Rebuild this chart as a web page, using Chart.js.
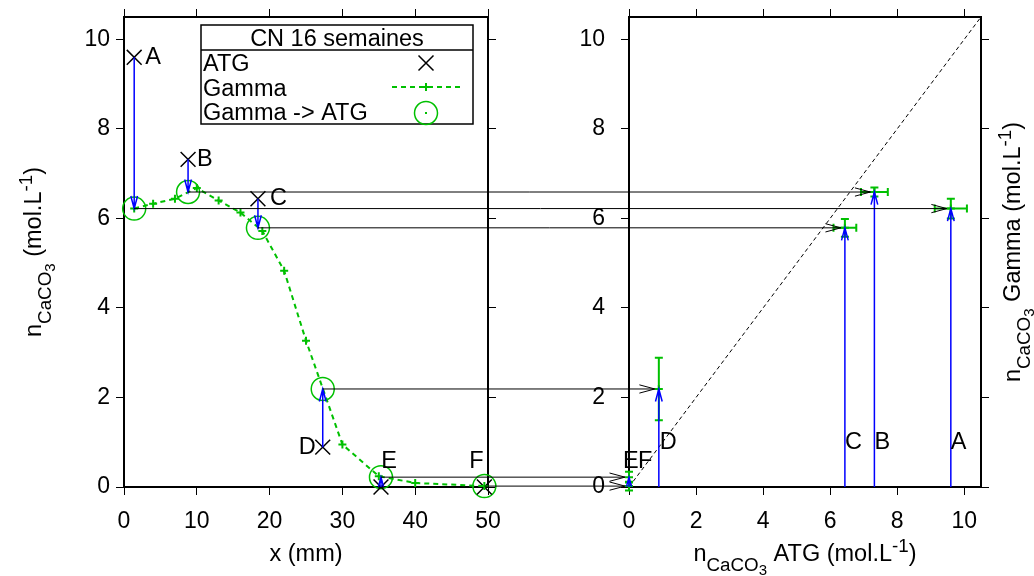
<!DOCTYPE html>
<html>
<head>
<meta charset="utf-8">
<script src="https://cdn.jsdelivr.net/npm/chart.js@4.4.0/dist/chart.umd.min.js"></script>
<style>
  body { margin: 0; background: #fff; }
  #wrap { position: relative; width: 1034px; height: 576px; }
  #wrap canvas { position: absolute; left: 0; top: 0; }
</style>
</head>
<body>
<div id="wrap">
  <canvas id="left" width="1034" height="576"></canvas>
  <canvas id="right" width="1034" height="576"></canvas>
</div>
<script>
// sample points
const pointNames = ['A', 'B', 'C', 'D', 'E', 'F'];
// ATG : position (mm) and n CaCO3 (mol/L)
const atgX = [1.4, 8.8, 18.4, 27.3, 35.3, 49.5];
const atgY = [9.6, 7.32, 6.44, 0.89, 0.0, 0.0];
// Gamma profile
const gammaX = [1.4, 4, 7, 10, 13, 16, 19, 22, 25, 30, 35, 40, 49.5];
const gammaY = [6.22, 6.33, 6.44, 6.68, 6.40, 6.13, 5.72, 4.83, 3.27, 0.95, 0.24, 0.09, 0.02];
// Gamma read at the ATG positions, with its uncertainties
const gammaAtAtg = [6.22, 6.59, 5.79, 2.19, 0.22, 0.02];
const gammaErrX = [0.48, 0.4, 0.34, 0, 0, 0];
const gammaErrY = [0.22, 0.1, 0.2, 0.7, 0.12, 0.1];
// ticks
const xTicksLeft = [0, 10, 20, 30, 40, 50];
const xTicksRight = [0, 2, 4, 6, 8, 10];
const yTicks = [0, 2, 4, 6, 8, 10];
const yMax = 10.5;

const legendTitle = 'CN 16 semaines';
const legendNames = ['ATG', 'Gamma', 'Gamma -> ATG'];

// styles
const FONT = '"Liberation Sans", Arial, sans-serif';
const FS = 23.5;
const GREEN = '#00c000';
const BLUE = '#0000ff';
// label offsets in px : [dx, dy, align]
const leftLabelOffsets = [[11, 0, 'left'], [9, 0, 'left'], [12, 0, 'left'], [-7, 0, 'right'], [8, -25, 'center'], [-8, -25, 'center']];
const rightLabelY = [1, 1, 1, 1, 0.57, 0.57];
const rightLabelDx = [0, 0, 0, 1, -6, 9];

const SIZES = { '0': FS, '-1': FS * 0.8, '-2': FS * 0.64, '1': FS * 0.8 };
const SHIFT = { '0': 0, '-1': 10, '-2': 13.5, '1': -9 };
const titleX = [['x (mm)', 0]];
const titleConc = [['n', 0], ['CaCO', -1], ['3', -2], [' (mol.L', 0], ['-1', 1], [')', 0]];
const titleAtg = [['n', 0], ['CaCO', -1], ['3', -2], [' ATG (mol.L', 0], ['-1', 1], [')', 0]];
const titleGamma = [['n', 0], ['CaCO', -1], ['3', -2], [' Gamma (mol.L', 0], ['-1', 1], [')', 0]];

function drawRich(ctx, parts, cx, cy, rot) {
    ctx.save();
    ctx.translate(cx, cy);
    ctx.rotate(rot || 0);
    ctx.fillStyle = '#000';
    ctx.textBaseline = 'alphabetic';
    ctx.textAlign = 'left';
    let w = 0;
    parts.forEach(([t, l]) => { ctx.font = SIZES[l] + 'px ' + FONT; w += ctx.measureText(t).width; });
    let x = -w / 2;
    parts.forEach(([t, l]) => {
        ctx.font = SIZES[l] + 'px ' + FONT;
        ctx.fillText(t, x, SHIFT[l]);
        x += ctx.measureText(t).width;
    });
    ctx.restore();
}

function arrow(ctx, x1, y1, x2, y2, color, lw, len) {
    const d = Math.hypot(x2 - x1, y2 - y1);
    if (d < 1) return;
    len = Math.min(len, d);
    const a = Math.atan2(y2 - y1, x2 - x1), ang = Math.PI / 12;
    ctx.save();
    ctx.strokeStyle = color;
    ctx.lineWidth = lw;
    ctx.beginPath();
    ctx.moveTo(x1, y1);
    ctx.lineTo(x2, y2);
    ctx.moveTo(x2 - len * Math.cos(a - ang), y2 - len * Math.sin(a - ang));
    ctx.lineTo(x2, y2);
    ctx.lineTo(x2 - len * Math.cos(a + ang), y2 - len * Math.sin(a + ang));
    ctx.stroke();
    ctx.restore();
}

function axis(pos, min, max, ticks, o) {
    return {
        type: 'linear',
        axis: (pos === 'top' || pos === 'bottom') ? 'x' : 'y',
        position: pos, min: min, max: max,
        afterBuildTicks: s => { s.ticks = ticks.map(v => ({ value: v })); },
        afterFit: s => {
            if (s.isHorizontal()) s.height = o.size; else s.width = o.size;
            s.paddingTop = s.paddingBottom = s.paddingLeft = s.paddingRight = 0;
        },
        ticks: { display: !!o.labels, color: '#000', font: { family: FONT, size: 23 }, padding: o.pad || 0, maxRotation: 0, autoSkip: false },
        grid: { drawOnChartArea: false, drawTicks: true, tickLength: 8, color: '#000', lineWidth: 1 },
        border: { display: true, color: '#000', width: 2 },
        title: { display: false }
    };
}

const baseOptions = {
    responsive: false,
    animation: false,
    devicePixelRatio: 1,
    events: [],
    layout: { padding: 0 },
    plugins: { legend: { display: false }, tooltip: { enabled: false } }
};

const leftExtras = {
    id: 'leftExtras',
    afterDatasetsDraw(chart) {
        const ctx = chart.ctx, xs = chart.scales.x, ys = chart.scales.y;
        atgX.forEach((x, i) => {
            const px = xs.getPixelForValue(x);
            const y1 = ys.getPixelForValue(atgY[i]), y2 = ys.getPixelForValue(gammaAtAtg[i]);
            arrow(ctx, px, y1, px, y2, BLUE, 1.5, 13);
            const o = leftLabelOffsets[i];
            ctx.save();
            ctx.font = FS + 'px ' + FONT;
            ctx.fillStyle = '#000';
            ctx.textAlign = o[2];
            ctx.textBaseline = 'middle';
            ctx.fillText(pointNames[i], px + o[0], y1 + o[1]);
            ctx.restore();
        });
    },
    afterDraw(chart) {
        const ctx = chart.ctx, ca = chart.chartArea;
        // legend box
        const lx = ca.left + 77, ly = ca.top + 8, lw = 272, lh = 99;
        ctx.save();
        ctx.strokeStyle = '#000';
        ctx.lineWidth = 1.5;
        ctx.fillStyle = '#fff';
        ctx.fillRect(lx, ly, lw, lh);
        ctx.strokeRect(lx, ly, lw, lh);
        ctx.beginPath();
        ctx.moveTo(lx, ly + 25);
        ctx.lineTo(lx + lw, ly + 25);
        ctx.stroke();
        ctx.fillStyle = '#000';
        ctx.font = FS + 'px ' + FONT;
        ctx.textAlign = 'center';
        ctx.fillText(legendTitle, lx + lw / 2, ly + 21);
        ctx.textAlign = 'left';
        legendNames.forEach((n, i) => ctx.fillText(n, lx + 2, ly + 46 + i * 24.5));
        const sx = lx + 225;
        // ATG symbol
        ctx.lineWidth = 1.5;
        ctx.beginPath();
        ctx.moveTo(sx - 7.5, ly + 38 - 7.5); ctx.lineTo(sx + 7.5, ly + 38 + 7.5);
        ctx.moveTo(sx + 7.5, ly + 38 - 7.5); ctx.lineTo(sx - 7.5, ly + 38 + 7.5);
        ctx.stroke();
        // Gamma symbol
        ctx.strokeStyle = GREEN;
        ctx.lineWidth = 2;
        ctx.setLineDash([5, 4]);
        ctx.beginPath();
        ctx.moveTo(sx - 34, ly + 62); ctx.lineTo(sx + 34, ly + 62);
        ctx.stroke();
        ctx.setLineDash([]);
        ctx.beginPath();
        ctx.moveTo(sx - 4, ly + 62); ctx.lineTo(sx + 4, ly + 62);
        ctx.moveTo(sx, ly + 58); ctx.lineTo(sx, ly + 66);
        ctx.stroke();
        // Gamma -> ATG symbol
        ctx.lineWidth = 1.5;
        ctx.beginPath();
        ctx.arc(sx, ly + 88, 11.5, 0, Math.PI * 2);
        ctx.stroke();
        ctx.fillStyle = GREEN;
        ctx.fillRect(sx - 1, ly + 87, 2, 2);
        ctx.restore();
        // axis titles
        drawRich(ctx, titleX, (ca.left + ca.right) / 2, 561, 0);
        drawRich(ctx, titleConc, 41, (ca.top + ca.bottom) / 2, -Math.PI / 2);
    }
};

const leftChart = new Chart(document.getElementById('left'), {
    type: 'scatter',
    data: {
        datasets: [{
            label: 'Gamma',
            data: gammaX.map((x, i) => ({ x: x, y: gammaY[i] })),
            showLine: true,
            borderColor: GREEN,
            borderWidth: 2,
            borderDash: [5, 4],
            pointStyle: 'cross',
            pointRadius: 4,
            pointBorderWidth: 2,
            pointBorderColor: GREEN,
            clip: false
        }, {
            label: 'ATG',
            data: atgX.map((x, i) => ({ x: x, y: atgY[i] })),
            pointStyle: 'crossRot',
            pointRadius: 10.5,
            pointBorderWidth: 1.5,
            pointBorderColor: '#000',
            clip: false
        }, {
            label: 'Gamma -> ATG',
            data: atgX.map((x, i) => ({ x: x, y: gammaAtAtg[i] })),
            pointStyle: 'circle',
            pointRadius: 11.5,
            pointBorderWidth: 1.5,
            pointBorderColor: GREEN,
            pointBackgroundColor: 'rgba(0,0,0,0)',
            clip: false
        }, {
            label: 'dot',
            data: atgX.map((x, i) => ({ x: x, y: gammaAtAtg[i] })),
            pointStyle: 'circle',
            pointRadius: 1,
            pointBorderWidth: 0,
            pointBackgroundColor: GREEN,
            clip: false
        }]
    },
    options: Object.assign({}, baseOptions, {
        scales: {
            x: axis('bottom', 0, 50, xTicksLeft, { size: 89, labels: true, pad: 13 }),
            xTop: axis('top', 0, 50, xTicksLeft, { size: 17 }),
            y: axis('left', 0, yMax, yTicks, { size: 124, labels: true, pad: 6 }),
            y2: axis('right', 0, yMax, yTicks, { size: 546 })
        }
    }),
    plugins: [leftExtras]
});

const rightExtras = {
    id: 'rightExtras',
    afterDatasetsDraw(chart) {
        const ctx = chart.ctx, xs = chart.scales.x, ys = chart.scales.y;
        ctx.save();
        ctx.strokeStyle = GREEN;
        ctx.lineWidth = 2;
        atgY.forEach((a, i) => {
            const px = xs.getPixelForValue(a), py = ys.getPixelForValue(gammaAtAtg[i]);
            if (gammaErrY[i] > 0) {
                const t = ys.getPixelForValue(gammaAtAtg[i] + gammaErrY[i]);
                const b = ys.getPixelForValue(gammaAtAtg[i] - gammaErrY[i]);
                ctx.beginPath();
                ctx.moveTo(px, t); ctx.lineTo(px, b);
                ctx.moveTo(px - 4, t); ctx.lineTo(px + 4, t);
                ctx.moveTo(px - 4, b); ctx.lineTo(px + 4, b);
                ctx.stroke();
            }
            if (gammaErrX[i] > 0) {
                const l = xs.getPixelForValue(a - gammaErrX[i]);
                const r = xs.getPixelForValue(a + gammaErrX[i]);
                ctx.beginPath();
                ctx.moveTo(l, py); ctx.lineTo(r, py);
                ctx.moveTo(l, py - 4); ctx.lineTo(l, py + 4);
                ctx.moveTo(r, py - 4); ctx.lineTo(r, py + 4);
                ctx.stroke();
            }
        });
        ctx.restore();
        atgY.forEach((a, i) => {
            const px = xs.getPixelForValue(a);
            arrow(ctx, px, ys.getPixelForValue(0), px, ys.getPixelForValue(gammaAtAtg[i]), BLUE, 1.5, 13);
            ctx.save();
            ctx.font = FS + 'px ' + FONT;
            ctx.fillStyle = '#000';
            ctx.textAlign = 'left';
            ctx.textBaseline = 'middle';
            ctx.fillText(pointNames[i], px + rightLabelDx[i], ys.getPixelForValue(rightLabelY[i]));
            ctx.restore();
        });
    },
    afterDraw(chart) {
        const ctx = chart.ctx, ca = chart.chartArea;
        const xs = chart.scales.x, ys = chart.scales.y;
        const lxs = leftChart.scales.x, lys = leftChart.scales.y;
        // Gamma -> ATG report arrows, from the left profile to the right panel
        atgY.forEach((a, i) => {
            const y = ys.getPixelForValue(gammaAtAtg[i]);
            arrow(ctx, lxs.getPixelForValue(atgX[i]), lys.getPixelForValue(gammaAtAtg[i]),
                xs.getPixelForValue(a) - 4, y, '#000', 1, 16);
        });
        drawRich(ctx, titleAtg, (ca.left + ca.right) / 2, 561, 0);
        drawRich(ctx, titleGamma, 1020, (ca.top + ca.bottom) / 2, -Math.PI / 2);
    }
};

new Chart(document.getElementById('right'), {
    type: 'scatter',
    data: {
        datasets: [{
            label: 'y = x',
            data: [{ x: 0, y: 0 }, { x: yMax, y: yMax }],
            showLine: true,
            borderColor: '#000',
            borderWidth: 1,
            borderDash: [4, 3],
            pointRadius: 0
        }, {
            label: 'Gamma vs ATG',
            data: atgY.map((a, i) => ({ x: a, y: gammaAtAtg[i] })),
            pointStyle: 'cross',
            pointRadius: 4,
            pointBorderWidth: 2,
            pointBorderColor: GREEN,
            clip: false
        }]
    },
    options: Object.assign({}, baseOptions, {
        scales: {
            x: axis('bottom', 0, yMax, xTicksRight, { size: 89, labels: true, pad: 13 }),
            xTop: axis('top', 0, yMax, xTicksRight, { size: 17 }),
            y: axis('left', 0, yMax, yTicks, { size: 629, labels: true, pad: 16 }),
            y2: axis('right', 0, yMax, yTicks, { size: 53 })
        }
    }),
    plugins: [rightExtras]
});
</script>
</body>
</html>
